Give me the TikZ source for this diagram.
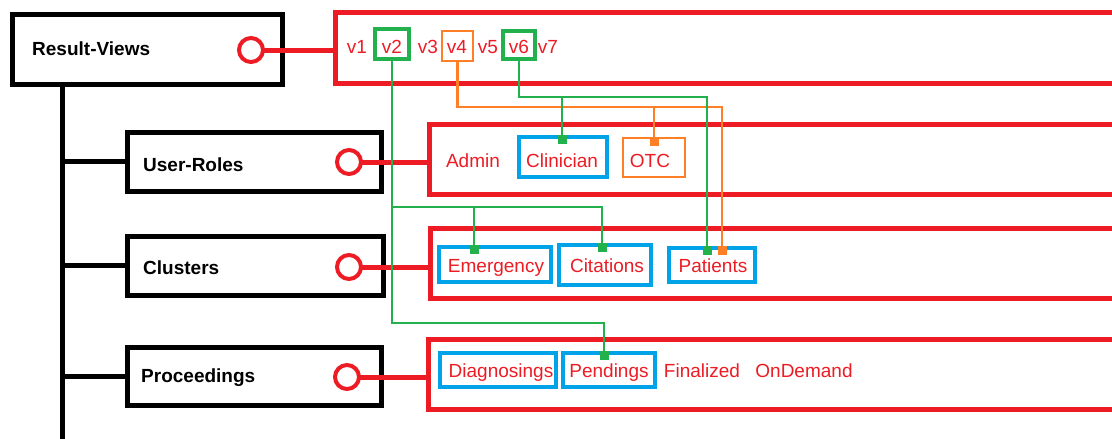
\documentclass[tikz,border=0pt]{standalone}
\usepackage{fontspec}
\setmainfont{Liberation Sans}
\definecolor{pred}{RGB}{237,28,36}
\definecolor{pgreen}{RGB}{34,177,76}
\definecolor{porange}{RGB}{255,127,39}
\definecolor{pblue}{RGB}{0,162,232}
\begin{document}
\begin{tikzpicture}[x=1pt,y=-1pt,
  blackbox/.style={draw=black, line width=5pt, inner sep=0pt, outer sep=0pt, rectangle},
  redbox/.style={draw=pred, line width=5pt, inner sep=0pt, outer sep=0pt, rectangle},
  bluebox/.style={draw=pblue, line width=4pt, inner sep=0pt, outer sep=0pt, rectangle},
  greenbox/.style={draw=pgreen, line width=4pt, inner sep=0pt, outer sep=0pt, rectangle},
  orangebox/.style={draw=porange, line width=2.7pt, inner sep=0pt, outer sep=0pt, rectangle},
  ring/.style={circle, draw=pred, line width=4pt, fill=white, minimum size=24pt, inner sep=0pt, outer sep=0pt},
  redlink/.style={draw=pred, line width=5pt},
  trunkline/.style={draw=black, line width=5pt},
  glink/.style={draw=pgreen, line width=2.7pt},
  olink/.style={draw=porange, line width=2.7pt},
  gsq/.style={fill=pgreen, minimum size=9pt, inner sep=0pt, outer sep=0pt, anchor=north},
  osq/.style={fill=porange, minimum size=9pt, inner sep=0pt, outer sep=0pt, anchor=north},
  lbl/.style={text=pred, font=\fontsize{19}{22}\selectfont, inner sep=0pt, anchor=base},
  ttl/.style={text=black, font=\fontsize{19}{22}\selectfont\bfseries, inner sep=0pt, anchor=base west}
]
\useasboundingbox (0,0) rectangle (1112,439);
\clip (0,0) rectangle (1112,439);
\fill[white] (0,0) rectangle (1112,439);

% red container boxes (open to the right)
\node[redbox, minimum width=804.5pt, minimum height=70.5pt] (rb1) at (737.75,47.75) {};
\node[redbox, minimum width=711pt, minimum height=70pt] (rb2) at (784.5,159) {};
\node[redbox, minimum width=710pt, minimum height=70pt] (rb3) at (785,263) {};
\node[redbox, minimum width=712pt, minimum height=70pt] (rb4) at (784,374) {};

% black boxes
\node[blackbox, minimum width=270pt, minimum height=70pt] (rv) at (147.5,49.5) {};
\node[blackbox, minimum width=254pt, minimum height=59pt] (ur) at (254,161.5) {};
\node[blackbox, minimum width=256pt, minimum height=59pt] (cl) at (255,265.5) {};
\node[blackbox, minimum width=254pt, minimum height=58pt] (pr) at (254,376) {};

% trunk and branches
\coordinate (tk0) at (62,84.5);
\coordinate (tk1) at (62,450);
\draw[trunkline] (tk0) -- (tk1);
\draw[trunkline] (ur.west) -- (ur.west -| tk0);
\draw[trunkline] (cl.west) -- (cl.west -| tk0);
\draw[trunkline] (pr.west) -- (pr.west -| tk0);

% rings and red links
\node[ring] (c1) at (251,50) {};
\node[ring] (c2) at (349,162) {};
\node[ring] (c3) at (349,267) {};
\node[ring] (c4) at (347,377) {};
\draw[redlink] (c1.east) -- (c1.east -| rb1.west);
\draw[redlink] (c2.east) -- (c2.east -| rb2.west);
\draw[redlink] (c3.east) -- (c3.east -| rb3.west);
\draw[redlink] (c4.east) -- (c4.east -| rb4.west);

% titles
\node[ttl] (trv) at (32,56) {Result-Views};
\node[ttl] (tur) at (143,171) {User-Roles};
\node[ttl] (tcl) at (143,274) {Clusters};
\node[ttl] (tpr) at (141,382) {Proceedings};

% row 1 items
\node[greenbox, minimum width=34pt, minimum height=30pt] (v2b) at (392,44) {};
\node[orangebox, minimum width=31pt, minimum height=30pt] (v4b) at (457.5,46) {};
\node[greenbox, minimum width=32pt, minimum height=28pt] (v6b) at (519,45) {};
\node[lbl] (v1) at (357,53) {v1};
\node[lbl] (v2) at (392,53) {v2};
\node[lbl] (v3) at (428,53) {v3};
\node[lbl] (v4) at (457,53) {v4};
\node[lbl] (v5) at (488,53) {v5};
\node[lbl] (v6) at (519,53) {v6};
\node[lbl] (v7) at (548,53) {v7};

% row 2 items
\node[bluebox, minimum width=88pt, minimum height=40pt] (clinb) at (563,157) {};
\node[orangebox, minimum width=62pt, minimum height=39pt] (otcb) at (654,157.5) {};
\node[lbl] (admin) at (473,167) {Admin};
\node[lbl] (clin) at (562,167) {Clinician};
\node[lbl] (otc) at (650,167) {OTC};

% row 3 items
\node[bluebox, minimum width=112pt, minimum height=35pt] (emerb) at (495,264.5) {};
\node[bluebox, minimum width=92pt, minimum height=40pt] (citb) at (605,265) {};
\node[bluebox, minimum width=86pt, minimum height=34pt] (patb) at (712,265) {};
\node[lbl] (emer) at (496,272) {Emergency};
\node[lbl] (cit) at (607,272) {Citations};
\node[lbl] (pat) at (713,272) {Patients};

% row 4 items
\node[bluebox, minimum width=116pt, minimum height=34pt] (diagb) at (498,370) {};
\node[bluebox, minimum width=92pt, minimum height=34pt] (pendb) at (609,370) {};
\node[lbl] (diag) at (501,377) {Diagnosings};
\node[lbl] (pend) at (609,377) {Pendings};
\node[lbl] (fin) at (702,377) {Finalized};
\node[lbl] (ond) at (804,377) {OnDemand};

% connector end squares
\node[gsq] (sqclin) at (562,135) {};
\node[osq] (sqotc) at (654,137) {};
\node[gsq] (sqemer) at (474,245) {};
\node[gsq] (sqcit) at (602,243) {};
\node[gsq] (sqpatg) at (707,246) {};
\node[osq] (sqpato) at (722,246) {};
\node[gsq] (sqpend) at (604,351) {};

% connector levels
\coordinate (lvA) at (0,97);
\coordinate (lvB) at (0,107);
\coordinate (lvC) at (0,207);
\coordinate (lvD) at (0,323);

% orange from v4
\draw[olink] (v4b.south) -- (v4b.south |- lvB) -| (sqpato.north);
\draw[olink] (sqotc.north |- lvB) -- (sqotc.north);
% green from v6
\draw[glink] (v6b.south) -- (v6b.south |- lvA) -| (sqpatg.north);
\draw[glink] (sqclin.north |- lvA) -- (sqclin.north);
% green from v2
\draw[glink] (v2b.south) -- (v2b.south |- lvD) -| (sqpend.north);
\draw[glink] (v2b.south |- lvC) -| (sqcit.north);
\draw[glink] (sqemer.north |- lvC) -- (sqemer.north);
\end{tikzpicture}
\end{document}
